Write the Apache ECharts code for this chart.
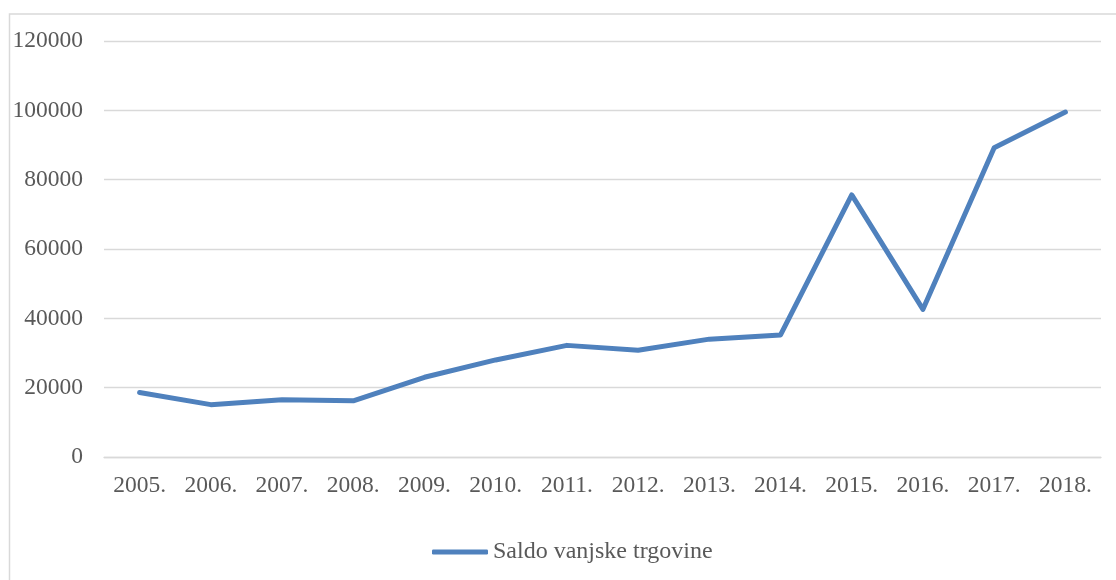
<!DOCTYPE html>
<html>
<head>
<meta charset="utf-8">
<script src="https://cdn.jsdelivr.net/npm/echarts@6/dist/echarts.min.js"></script>
<style>
  html, body { margin: 0; padding: 0; background: #fff; }
  #chart { width: 1116px; height: 580px; }
</style>
</head>
<body>
<div id="chart"></div>
<script>
// Years of the series
const years = ['2005.', '2006.', '2007.', '2008.', '2009.', '2010.', '2011.',
               '2012.', '2013.', '2014.', '2015.', '2016.', '2017.', '2018.'];
// Foreign trade balance per year
const saldo = [18600, 15100, 16500, 16200, 23000, 28000, 32200,
               30800, 34000, 35200, 75600, 42600, 89200, 99500];
const seriesName = 'Saldo vanjske trgovine';

const axisMin = 0;
const axisMax = 120000;
const axisStep = 20000;

const fontFamily = '"Liberation Serif", "Times New Roman", serif';
const textColor = '#595959';
const gridColor = '#d9d9d9';
const lineColor = '#4f81bd';

const chart = echarts.init(document.getElementById('chart'), null, { renderer: 'canvas' });

chart.setOption({
  animation: false,
  backgroundColor: '#ffffff',
  graphic: [{
    type: 'rect',
    left: 7, top: 11.5,
    shape: { width: 1130, height: 600 },
    style: { fill: 'none', stroke: gridColor, lineWidth: 1.5 },
    silent: true,
    z: -1
  }],
  grid: { left: 104, right: 15, top: 41, bottom: 123, containLabel: false },
  xAxis: {
    type: 'category',
    data: years,
    boundaryGap: true,
    axisLine: { show: true, lineStyle: { color: gridColor, width: 1.3 } },
    axisTick: { show: false },
    axisLabel: { color: textColor, fontFamily: fontFamily, fontSize: 23.5, margin: 17, interval: 0 },
    splitLine: { show: false }
  },
  yAxis: {
    type: 'value',
    min: axisMin, max: axisMax, interval: axisStep,
    axisLine: { show: false },
    axisTick: { show: false },
    axisLabel: {
      color: textColor, fontFamily: fontFamily, fontSize: 23.5, margin: 21,
      formatter: (v) => String(v)
    },
    splitLine: { show: true, lineStyle: { color: gridColor, width: 1.3 } }
  },
  legend: {
    left: 427, top: 535,
    itemWidth: 56, itemHeight: 5,
    icon: 'roundRect',
    textStyle: { color: textColor, fontFamily: fontFamily, fontSize: 24 },
    data: [seriesName]
  },
  series: [{
    name: seriesName,
    type: 'line',
    data: saldo,
    symbol: 'none',
    lineStyle: { color: lineColor, width: 5, cap: 'round', join: 'round' },
    itemStyle: { color: lineColor }
  }]
});
</script>
</body>
</html>
